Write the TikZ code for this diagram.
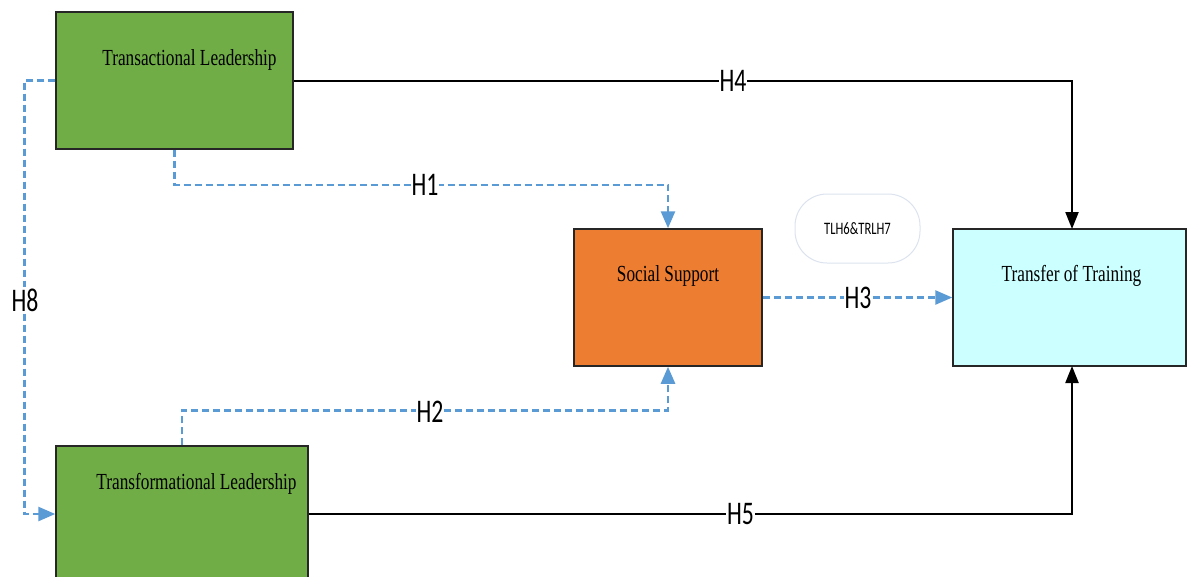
\documentclass[tikz,border=0pt]{standalone}
\usepackage{fontspec}
\usetikzlibrary{arrows.meta}
\newfontfamily\boxfont[FakeStretch=0.75]{Liberation Serif}
\newfontfamily\lblfont[FakeStretch=0.72]{Carlito}
\definecolor{leadgreen}{HTML}{70AD47}
\definecolor{suporange}{HTML}{ED7D31}
\definecolor{trcyan}{HTML}{CCFFFF}
\definecolor{linkblue}{HTML}{5B9BD5}
\definecolor{ovalgray}{HTML}{DCE3EE}
\tikzset{
  box/.style={draw=black!85, line width=1.5pt, minimum width=#1, inner sep=0pt},
  boxtext/.style={font=\boxfont\fontsize{23}{26}\selectfont, inner sep=0pt, anchor=base},
  solidlink/.style={draw=black, line width=2.2pt, -{Triangle[length=17pt,width=13pt]}},
  dashlink/.style={draw=linkblue, line width=2.6pt, dash pattern=on 7pt off 4pt,
    -{Triangle[length=17pt,width=14pt]}},
  hlabel/.style={font=\lblfont\fontsize{33}{36}\selectfont, fill=white, inner xsep=1pt, inner ysep=2pt},
  oval/.style={draw=ovalgray, line width=1pt, fill=white, rounded corners=32pt,
    minimum width=125pt, minimum height=69pt,
    font=\lblfont\fontsize{17.5}{19}\selectfont}
}
\begin{document}
\begin{tikzpicture}[x=1pt, y=-1pt]
\useasboundingbox (0,0) rectangle (1188,576);
\clip (0,0) rectangle (1188,576);
\fill[white] (0,0) rectangle (1188,576);

% boxes
\node[box=237pt, minimum height=137pt, fill=leadgreen] (tac) at (174.5,80.6) {};
\node[box=252pt, minimum height=136pt, fill=leadgreen] (tfm) at (182,514) {};
\node[box=188pt, minimum height=137pt, fill=suporange] (ss) at (668,297.5) {};
\node[box=233pt, minimum height=137pt, fill=trcyan] (tot) at (1069.5,297.5) {};
\coordinate (totn) at (1072,229);
\coordinate (tots) at (1072,366);

% box captions
\node[boxtext] (tactext) at (189.5,65) {Transactional Leadership};
\node[boxtext] (tfmtext) at (196.5,489) {Transformational Leadership};
\node[boxtext] (sstext) at (668,281.5) {Social Support};
\node[boxtext] (tottext) at (1071.5,281.5) {Transfer of Training};

% moderation note
\node[oval] (note) at (857.5,228.5) {TLH6\&TRLH7};

% direct effects
\draw[solidlink] (tac.east) -| (totn);
\draw[solidlink] (tfm.east) -| (tots);

% mediated paths
\draw[dashlink] (tac.south) -- ++(0,35) coordinate (h1a) -| (ss.north);
\draw[dashlink] (tfm.north) -- ++(0,-35) coordinate (h2a) -| (ss.south);
\draw[dashlink] (ss.east) -- (tot.west);
\draw[dashlink] (tac.west) -- ++(-31,0) coordinate (h8a) |- (tfm.west);

% hypothesis labels
\node[hlabel] (h4) at (733,80.6) {H4};
\node[hlabel] (h5) at (740.5,514) {H5};
\node[hlabel] (h1) at (425,184.6) {H1};
\node[hlabel] (h2) at (430,412) {H2};
\node[hlabel] (h3) at (858,298) {H3};
\node[hlabel] (h8) at (25,300) {H8};
\end{tikzpicture}
\end{document}
